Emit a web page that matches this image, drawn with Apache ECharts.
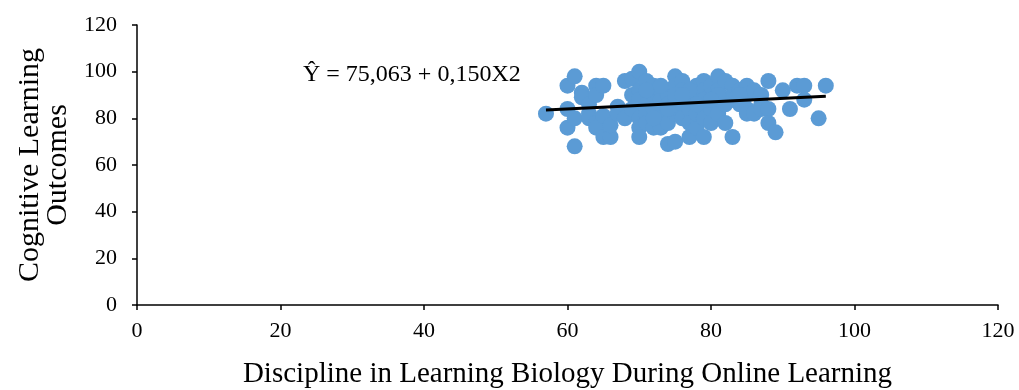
<!DOCTYPE html>
<html>
<head>
<meta charset="utf-8">
<script src="https://cdn.jsdelivr.net/npm/echarts@6/dist/echarts.min.js"></script>
<style>html,body{margin:0;padding:0;background:#fff}#c{width:1019px;height:390px}</style>
</head>
<body>
<div id="c"></div>
<script>
var xValues = [57,60,60,60,61,61,61,62,62,63,63,63,64,64,64,64,65,65,65,66,66,67,67,68,68,69,69,69,
70,70,70,70,70,70,71,71,71,71,72,72,72,72,73,73,73,73,74,74,74,74,75,75,75,75,75,
76,76,76,76,77,77,77,77,78,78,78,78,79,79,79,79,79,80,80,80,80,81,81,81,81,82,82,82,
83,83,83,84,84,85,85,85,85,86,86,87,87,87,88,88,88,89,90,91,92,93,93,95,96,
71,73,75,77,79,81,83,72,74,76,78,80,82,84];
var yValues = [82,94,84,76,98,80,68,91,89,86,82,80,94,90,78,76,94,81,72,72,77,85,82,96,80,97,90,84,
100,92,88,80,76,72,96,86,82,78,94,90,84,76,92,88,80,76,90,86,69,78,98,94,82,70,88,
96,92,86,80,90,84,72,78,94,88,76,82,96,92,86,72,80,94,90,84,78,98,92,86,82,96,88,78,
94,90,72,92,86,94,90,84,82,92,82,90,86,84,96,84,78,74,92,84,94,94,88,80,94,
92,94,90,92,88,90,88,80,84,90,86,88,86,90];
var xTicks = [0,20,40,60,80,100,120];
var yTicks = [0,20,40,60,80,100,120];
var regIntercept = 75.063, regSlope = 0.150;
var trendX = [57, 96];
var equationText = 'Ŷ = 75,063 + 0,150X2';

var pts = xValues.map(function(x,i){return [x, yValues[i]];});
var trend = trendX.map(function(x){return [x, regIntercept + regSlope*x];});
var font = '"Liberation Serif", serif';
var chart = echarts.init(document.getElementById('c'));
chart.setOption({
  animation:false,
  grid:{left:137,right:21,top:25,bottom:85,containLabel:false,outerBoundsMode:'none'},
  xAxis:{type:'value',min:0,max:120,interval:20,
    name:'Discipline in Learning Biology During Online Learning',nameLocation:'middle',nameGap:55,
    nameTextStyle:{fontFamily:font,fontSize:29,color:'#000'},
    axisLine:{lineStyle:{color:'#000',width:1.5}},axisTick:{show:true,length:5,lineStyle:{color:'#000',width:1.5}},
    axisLabel:{fontFamily:font,fontSize:22,color:'#000',margin:15},splitLine:{show:false}},
  yAxis:{type:'value',min:0,max:120,interval:20,
    name:'Cognitive Learning\nOutcomes',nameLocation:'middle',nameGap:65,
    nameTextStyle:{fontFamily:font,fontSize:30,color:'#000',lineHeight:28},
    axisLine:{show:true,lineStyle:{color:'#000',width:1.5}},axisTick:{show:true,length:5,lineStyle:{color:'#000',width:1.5}},
    axisLabel:{fontFamily:font,fontSize:22,color:'#000',margin:20},splitLine:{show:false}},
  graphic:[{type:'text',left:303,top:63,style:{text:equationText,fontFamily:font,fontSize:24,fill:'#000'}}],
  series:[
    {type:'scatter',data:pts,symbolSize:16,itemStyle:{color:'#5B9BD5',opacity:1},z:2},
    {type:'line',data:trend,symbol:'none',lineStyle:{color:'#000',width:3},z:3}
  ]
});
</script>
</body>
</html>
